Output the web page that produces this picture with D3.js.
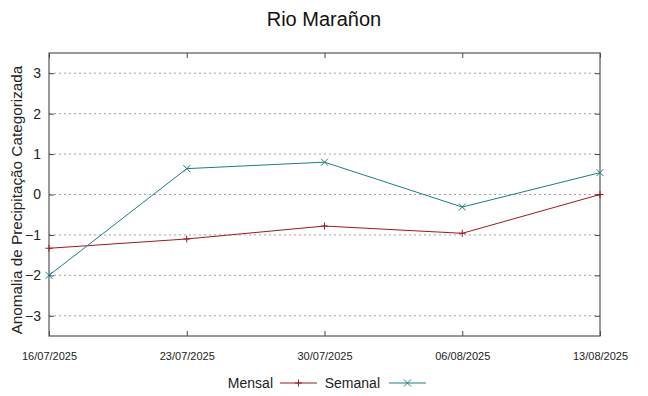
<!DOCTYPE html>
<html>
<head>
<meta charset="utf-8">
<script src="https://cdn.jsdelivr.net/npm/d3@7"></script>
<style>
  body { margin: 0; background: #fff; }
  text { font-family: "Liberation Sans", Arial, sans-serif; }
</style>
</head>
<body>
<div id="chart"></div>
<script>
// chart data
const dates = ["16/07/2025", "23/07/2025", "30/07/2025", "06/08/2025", "13/08/2025"];
const mensal = [-1.33, -1.10, -0.78, -0.96, 0.00];
const semanal = [-2.00, 0.64, 0.80, -0.31, 0.54];
const yTicks = [-3, -2, -1, 0, 1, 2, 3];

const W = 648, H = 396;
const margin = {top: 53, right: 48, bottom: 60, left: 49};
const width = W - margin.left - margin.right;
const height = H - margin.top - margin.bottom;

const parse = d3.timeParse("%d/%m/%Y");
const x = d3.scaleTime()
  .domain([parse(dates[0]), parse(dates[dates.length - 1])])
  .range([0, width]);
const y = d3.scaleLinear().domain([-3.5, 3.5]).range([height, 0]);

const svg = d3.select("#chart").append("svg")
  .attr("width", W)
  .attr("height", H);

const g = svg.append("g")
  .attr("transform", `translate(${margin.left},${margin.top})`);

// dotted horizontal grid
g.append("g")
  .selectAll("line")
  .data(yTicks)
  .enter()
  .append("line")
  .attr("x1", 0).attr("x2", width)
  .attr("y1", d => y(d)).attr("y2", d => y(d))
  .attr("stroke", "#a0a0a0")
  .attr("stroke-width", 1)
  .attr("stroke-dasharray", "2,3");

// axes, ticks pointing inwards like gnuplot
const tickDates = dates.map(parse);
g.append("g")
  .attr("transform", `translate(0,${height})`)
  .call(d3.axisBottom(x).tickValues(tickDates).tickFormat(d3.timeFormat("%d/%m/%Y")).tickSizeInner(-5).tickSizeOuter(0).tickPadding(16))
  .call(a => a.select(".domain").remove())
  .selectAll("text").attr("font-size", 11).attr("fill", "#222");

g.append("g")
  .call(d3.axisTop(x).tickValues(tickDates).tickFormat("").tickSizeInner(-5).tickSizeOuter(0))
  .call(a => a.select(".domain").remove());

g.append("g")
  .call(d3.axisLeft(y).tickValues(yTicks).tickFormat(d3.format("d")).tickSizeInner(-5).tickSizeOuter(0).tickPadding(8))
  .call(a => a.select(".domain").remove())
  .selectAll("text").attr("font-size", 14).attr("fill", "#222");

g.append("g")
  .attr("transform", `translate(${width},0)`)
  .call(d3.axisRight(y).tickValues(yTicks).tickFormat("").tickSizeInner(-5).tickSizeOuter(0))
  .call(a => a.select(".domain").remove());

g.selectAll(".tick line").attr("stroke", "#444");

// border
g.append("rect")
  .attr("width", width).attr("height", height)
  .attr("fill", "none").attr("stroke", "#555").attr("stroke-width", 1.2);

const series = [
  {name: "Mensal", values: mensal, color: "#a01818", mark: "plus"},
  {name: "Semanal", values: semanal, color: "#1a8080", mark: "cross"}
];

const line = d3.line()
  .x((d, i) => x(parse(dates[i])))
  .y(d => y(d));

function marker(type, s) {
  if (type === "plus") return `M${-s},0H${s}M0,${-s}V${s}`;
  return `M${-s},${-s}L${s},${s}M${-s},${s}L${s},${-s}`;
}

series.forEach(s => {
  g.append("path")
    .datum(s.values)
    .attr("fill", "none")
    .attr("stroke", s.color)
    .attr("stroke-width", 1)
    .attr("d", line);

  g.selectAll(null)
    .data(s.values)
    .enter()
    .append("path")
    .attr("transform", (d, i) => `translate(${x(parse(dates[i]))},${y(d)})`)
    .attr("d", marker(s.mark, 3.5))
    .attr("stroke", s.color)
    .attr("stroke-width", 1)
    .attr("fill", "none");
});

// title
svg.append("text")
  .attr("x", W / 2).attr("y", 26)
  .attr("text-anchor", "middle")
  .attr("font-size", 20)
  .attr("fill", "#111")
  .text("Rio Marañon");

// y label
svg.append("text")
  .attr("transform", `translate(22,200) rotate(-90)`)
  .attr("text-anchor", "middle")
  .attr("font-size", 15.3)
  .attr("fill", "#222")
  .text("Anomalia de Precipitação Categorizada");

// legend
const legendItems = [
  {textX: 273, lineX: 280, s: series[0]},
  {textX: 380, lineX: 389, s: series[1]}
];
legendItems.forEach(l => {
  svg.append("text")
    .attr("x", l.textX).attr("y", 388)
    .attr("text-anchor", "end")
    .attr("font-size", 14)
    .attr("fill", "#222")
    .text(l.s.name);
  svg.append("line")
    .attr("x1", l.lineX).attr("x2", l.lineX + 37)
    .attr("y1", 383).attr("y2", 383)
    .attr("stroke", l.s.color).attr("stroke-width", 1);
  svg.append("path")
    .attr("transform", `translate(${l.lineX + 18.5},383)`)
    .attr("d", marker(l.s.mark, 3.5))
    .attr("stroke", l.s.color).attr("fill", "none");
});
</script>
</body>
</html>
